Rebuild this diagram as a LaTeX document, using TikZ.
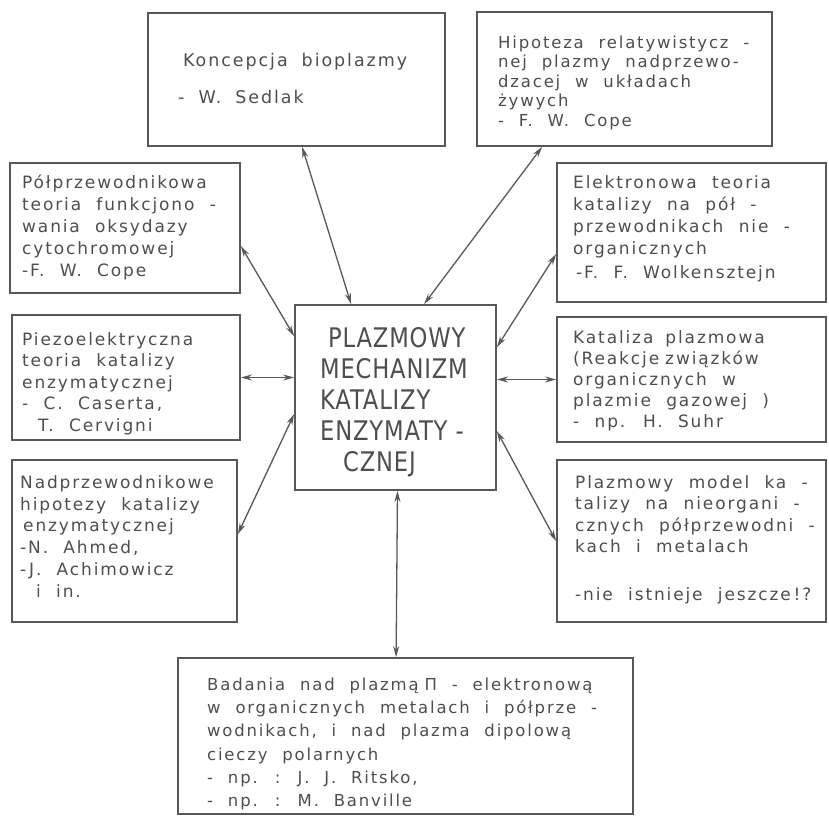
\documentclass[tikz,border=0pt]{standalone}
\usepackage{fontspec}
\setmainfont{DejaVu Sans}[LetterSpace=11,WordSpace=2.1]
\newfontfamily\capsfont{DejaVu Sans}[FakeStretch=0.84,LetterSpace=3]
\usetikzlibrary{arrows.meta,calc}
\definecolor{linec}{RGB}{88,88,88}
\definecolor{textc}{RGB}{78,78,78}
\begin{document}
\begin{tikzpicture}[x=1pt,y=-1pt,
  box/.style={draw=linec,line width=1.8pt,inner sep=0pt,fill=none},
  txt/.style={anchor=north west,inner sep=0pt,align=left,text=textc},
  conn/.style={draw=linec,line width=1.3pt,{Stealth[length=11pt,width=6pt]}-{Stealth[length=11pt,width=6pt]}}]
\useasboundingbox (0,0) rectangle (829,816);
% boxes
\node[box,minimum width=297,minimum height=133] (A) at (296.5,79.5) {};
\node[box,minimum width=295,minimum height=134] (B) at (624.5,79) {};
\node[box,minimum width=230,minimum height=130] (C) at (125,228) {};
\node[box,minimum width=269,minimum height=139] (D) at (691.5,232.5) {};
\node[box,minimum width=228,minimum height=125] (E) at (126,377.5) {};
\node[box,minimum width=269,minimum height=125] (F) at (691.5,379.5) {};
\node[box,minimum width=225,minimum height=162] (G) at (124.5,541) {};
\node[box,minimum width=269,minimum height=162] (H) at (691.5,541) {};
\node[box,minimum width=201,minimum height=185] (I) at (395.5,397.5) {};
\node[box,minimum width=455,minimum height=156] (J) at (405.5,736) {};
% texts
\node[txt,font=\fontsize{17.5}{37}\selectfont] (At) at (178,53)
 {\rule{0pt}{13pt}\hspace{5pt}Koncepcja\hspace{14pt}bioplazmy\\-\hspace{14pt}W.\hspace{14pt}Sedlak};
\node[txt,font=\fontsize{16.5}{19.5}\selectfont] (Bt) at (498,35)
 {\rule{0pt}{13pt}Hipoteza relatywistycz -\\nej plazmy nadprzewo-\\dzacej w układach\\żywych\\- F. W. Cope};
\node[txt,font=\fontsize{17}{22}\selectfont] (Ct) at (22,175)
 {\rule{0pt}{13pt}Półprzewodnikowa\\teoria funkcjono -\\wania oksydazy\\cytochromowej\\-F. W. Cope};
\node[txt,font=\fontsize{17}{22}\selectfont] (Dt) at (573,175)
 {\rule{0pt}{13pt}Elektronowa teoria\\katalizy na pół -\\przewodnikach nie -\\organicznych\\[2pt]\,-F. F. Wolkensztejn};
\node[txt,font=\fontsize{17}{21.5}\selectfont] (Et) at (22,332)
 {\rule{0pt}{13pt}Piezoelektryczna\\teoria katalizy\\enzymatycznej\\- C. Caserta,\\\hspace{16pt}T. Cervigni};
\node[txt,font=\fontsize{17}{21}\selectfont] (Ft) at (573,330)
 {\rule{0pt}{13pt}Kataliza\hspace{12pt}plazmowa\\(Reakcje\hspace{6pt}związków\\organicznych w\\plazmie gazowej )\\- np. H. Suhr};
\node[txt,font=\fontsize{17}{21.8}\selectfont] (Gt) at (20,475)
 {\rule{0pt}{13pt}Nadprzewodnikowe\\hipotezy katalizy\\\hspace{3pt}enzymatycznej\\-N. Ahmed,\\-J. Achimowicz\\\hspace{16pt}i in.};
\node[txt,font=\fontsize{17}{21.5}\selectfont] (Ht) at (575,475)
 {\rule{0pt}{13pt}Plazmowy model ka -\\talizy na nieorgani -\\cznych półprzewodni -\\kach i metalach\\[26pt]-nie istnieje jeszcze\,!?};
\node[txt,font=\fontsize{16.5}{23.3}\selectfont] (Jt) at (207,677)
 {\rule{0pt}{13pt}Badania nad plazmą\hspace{6pt}Π - elektronową\\w organicznych metalach i półprze -\\wodnikach, i nad plazma dipolową\\cieczy polarnych\\- np. : J. J. Ritsko,\\- np. : M. Banville};
\node[txt,font=\capsfont\fontsize{27}{31}\selectfont] (It) at (320,327)
 {\rule{0pt}{20pt}\hspace{8pt}PLAZMOWY\\MECHANIZM\\KATALIZY\\ENZYMATY -\\\hspace{23pt}CZNEJ};
% connectors
\draw[conn] ($(A.south west)+(155,0)$) -- ($(I.north west)+(57,0)$);
\draw[conn] ($(B.south west)+(66,0)$) -- ($(I.north west)+(130,0)$);
\draw[conn] ($(C.north east)+(0,84)$) -- ($(I.north west)+(0,32)$);
\draw[conn] (E.east) -- (I.west |- E.east);
\draw[conn] ($(G.north east)+(0,75)$) -- ($(I.north west)+(0,110)$);
\draw[conn] ($(D.north west)+(0,92)$) -- ($(I.north east)+(0,43)$);
\draw[conn] (F.west) -- (I.east |- F.west);
\draw[conn] ($(H.north west)+(0,82)$) -- ($(I.north east)+(0,127)$);
\draw[conn] ($(I.south)+(2,0)$) -- ($(J.north west)+(219,0)$);
\end{tikzpicture}
\end{document}
